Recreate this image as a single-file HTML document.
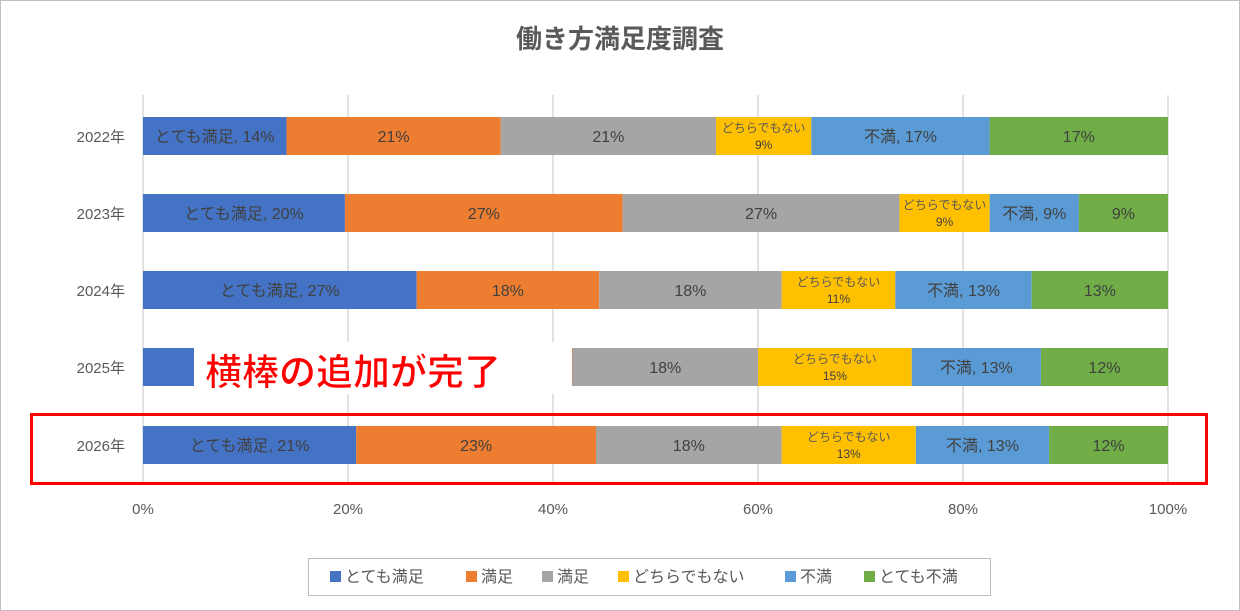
<!DOCTYPE html>
<html><head><meta charset="utf-8"><style>
body{margin:0;background:#fff}
svg{display:block;font-family:"Liberation Sans","Noto Sans CJK JP",sans-serif}
</style></head><body>
<svg id="c" width="1240" height="611" viewBox="0 0 1240 611">
<rect x="0.5" y="0.5" width="1239" height="610" fill="#fff" stroke="#bfbfbf"/>
<text x="620" y="48" text-anchor="middle" font-size="26" font-weight="bold" fill="#595959">働き方満足度調査</text>
<g id="grid"></g><g id="bars"></g><g id="labels"></g>
<rect x="194" y="342" width="378" height="52" fill="#fff"/>
<text x="205" y="385" font-size="37" font-weight="bold" fill="#ff0000" stroke="#fff" stroke-width="1">横棒の追加が完了</text>
<rect x="31.5" y="414.5" width="1175" height="69" fill="none" stroke="#ff0000" stroke-width="3"/>
<g id="legend"></g>
</svg>
<script>
const categories=["2022年","2023年","2024年","2025年","2026年"];
const seriesNames=["とても満足","満足","満足","どちらでもない","不満","とても不満"];
const colors=["#4472c4","#ed7d31","#a5a5a5","#ffc000","#5b9bd5","#70ad47"];
const s1=[14.0,19.7,26.7,21.0,20.8];
const s2=[20.9,27.1,17.8,20.9,23.4];
const s3=[21.0,27.0,17.8,18.1,18.1];
const s4=[9.3,8.8,11.1,15.0,13.1];
const s5=[17.4,8.7,13.3,12.6,13.0];
const s6=[17.4,8.7,13.3,12.4,11.6];
const ticks=[0,20,40,60,80,100];
const ns="http://www.w3.org/2000/svg";
const X0=143,X1=1168,rowY=[136,213,290,367,445],BH=38;
const x=v=>X0+(X1-X0)*v/100;
function mk(t,a,p,txt){const e=document.createElementNS(ns,t);for(const k in a)e.setAttribute(k,a[k]);if(txt!==undefined)e.textContent=txt;p.appendChild(e);return e;}
const g=document.getElementById('grid'),b=document.getElementById('bars'),L=document.getElementById('labels'),lg=document.getElementById('legend');
ticks.forEach(t=>{
 const l=mk('line',{x1:x(t),x2:x(t),y1:95,y2:485,stroke:'#d9d9d9','stroke-width':1.5},g);
 
 
 const tx=mk('text',{x:x(t),y:514,'text-anchor':'middle','font-size':15,fill:'#595959'},g,t+'%');
 
 
});
const series=[s1,s2,s3,s4,s5,s6];
categories.forEach((c,i)=>{
 const t=mk('text',{x:125,y:rowY[i]+6,'text-anchor':'end','font-size':15,fill:'#595959'},g,c);
 
 
 let acc=0;
 series.forEach((s,j)=>{
  const v=s[i],xa=x(acc),xb=x(acc+v);acc+=v;
  const r=mk('rect',{x:xa,y:rowY[i]-BH/2,width:xb-xa,height:BH,fill:colors[j]},b);
  
  
  const pct=Math.round(v)+'%',cx=(xa+xb)/2;
  let lab;
  if(j===3){
   const a=mk('text',{x:cx,y:rowY[i]-4,'text-anchor':'middle','font-size':12,fill:'#595959'},L,'どちらでもない');
   
   
   lab=mk('text',{x:cx,y:rowY[i]+13,'text-anchor':'middle','font-size':12,fill:'#404040'},L,pct);
  }else{
   let txt=pct;
   if(j===0)txt='とても満足, '+pct;
   if(j===4)txt='不満, '+pct;
   lab=mk('text',{x:cx,y:rowY[i]+6,'text-anchor':'middle','font-size':16,fill:'#404040'},L,txt);
  }
  
  
 });
});
const lb=mk('rect',{x:308.5,y:558.5,width:682,height:37,fill:'#fff',stroke:'#bfbfbf'},lg);


const lx=[330,466,542,618,785,864];
seriesNames.forEach((n,j)=>{
 const sq=mk('rect',{x:lx[j],y:571,width:11,height:11,fill:colors[j]},lg);
 
 
 const t=mk('text',{x:lx[j]+15,y:582,'font-size':16,fill:'#595959'},lg,n);
 
 
});
</script>
</body></html>
